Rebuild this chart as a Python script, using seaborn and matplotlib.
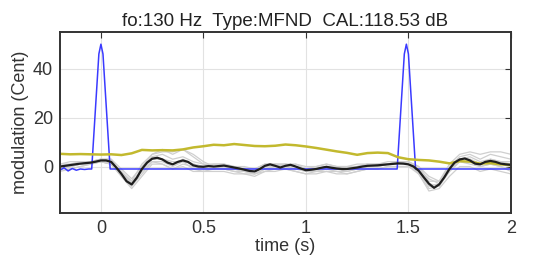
import numpy as np
import pandas as pd
import matplotlib
matplotlib.use("Agg")
import matplotlib.pyplot as plt
import seaborn as sns

# time grids (s)
t_fine = np.round(np.arange(-0.2, 2.0001, 0.025), 3)
t_coarse = np.round(np.arange(-0.2, 2.0001, 0.05), 3)

# mean modulation (black)
mean_mod = [0.0, 0.3, 0.6, 0.9, 1.2, 1.4, 1.6, 2.0, 2.5, 2.5,
            1.9, -0.4, -3.0, -6.0, -7.3, -4.6, -1.0, 1.6, 3.2, 3.6,
            2.9, 1.6, 0.9, 1.9, 2.5, 1.9, 0.5, 0.0, -0.1, 0.2,
            0.0, 0.2, 0.4, 0.0, -0.4, -0.8, -1.3, -1.8, -2.0, -1.0,
            0.3, 0.9, 0.3, -0.4, 0.3, 0.7, 0.0, -0.8, -1.5, -1.3,
            -1.0, -0.5, -0.1, -0.5, -0.8, -1.0, -1.0, -0.7, -0.4, 0.0,
            0.3, 0.4, 0.5, 0.7, 0.9, 1.1, 1.3, 1.2, 0.9, 0.0,
            -1.7, -4.4, -7.0, -8.7, -7.3, -4.4, -1.0, 1.6, 2.9, 3.3,
            2.5, 1.2, 0.9, 1.9, 2.3, 1.9, 1.2, 0.9, 0.7]

# yellow trace
yellow_mod = [5.2, 5.0, 5.1, 5.0, 4.9, 5.0, 4.7, 5.4, 6.8, 6.6,
              6.7, 6.6, 7.0, 7.8, 8.3, 8.9, 8.7, 9.2, 8.8, 8.4,
              8.3, 8.5, 9.0, 8.7, 8.2, 7.6, 6.9, 6.2, 5.6, 4.8,
              5.5, 5.7, 5.5, 3.8, 3.0, 2.7, 2.5, 2.0, 1.3, 2.2,
              2.0, 1.2, 1.4, 0.9, 0.6]

# single trials (light gray)
trials = {
    "g1": [-1, 0, 1, 2, 3, 2, -2, -6, -2, 4, 5, 3, 4, 2, 1, 0, -1, -2, -2, -3,
           -1, 0, 1, 0, -2, -2, -1, -2, -2, -1, 0, 1, 1, 2, 2, -1, -5, -7, -2, 3,
           4, 2, 3, 2, 1],
    "g2": [1, 1, 2, 2, 2, 1, -4, -8, -3, 2, 1, -1, 1, 0, -1, -1, 0, -1, -2, -3,
           -1, -1, 0, -1, -2, -1, 0, 0, -1, 0, 1, 1, 2, 2, 1, -3, -9, -8, -2, 2,
           1, 0, 1, 0, -1],
    "g3": [0, 1, 1, 2, 3, 3, -1, -5, 0, 5, 7, 5, 7, 4, 1, 1, 1, 0, 0, -1,
           1, 1, 1, 1, 0, 0, 1, 0, 0, 0, 1, 0, 1, 1, 2, 0, -6, -6, 0, 4,
           5, 3, 5, 4, 3],
    "g4": [-1, -1, 0, 1, 2, 1, -3, -7, -2, 2, 2, 0, 2, -1, -2, -1, -1, -2, -3, -3,
           -2, -1, -1, -2, -3, -2, -2, -2, -3, -2, -1, -1, 0, 0, 0, -2, -8, -8, -2, 2,
           2, 0, 1, 0, -2],
    "g5": [1, 2, 2, 2, 3, 3, -3, -8, 0, 4, 3, 1, 3, 1, 0, 1, 1, 0, -1, -1,
           1, 1, 0, 1, -1, 0, 1, 0, 0, 1, 1, 1, 1, 2, 1, -1, -7, -8, 0, 3,
           3, 1, 3, 2, 2],
    "g6": [0, 0, 1, 1, 2, 2, -2, -7, -1, 3, 3, 2, 2, 1, 0, 0, 0, -1, -1, -2,
           0, 0, 0, 0, -1, -1, 0, -1, -1, 0, 0, 0, 1, 1, 1, -2, -8, -7, -1, 3,
           3, 1, 2, 1, 0],
    "g7": [0, 0, 1, 2, 2, 1, -3, -6, 1, 5, 6, 6, 7, 5, 2, 0, -1, -1, -2, -2,
           0, 1, 1, 0, -1, -2, -1, -1, -2, -1, 0, 1, 1, 2, 2, 0, -4, -6, 1, 5,
           6, 5, 6, 6, 5],
    "g8": [-2, -1, 0, 1, 2, 1, -4, -9, -4, 1, 1, -1, 0, -2, -2, -2, -2, -3, -3, -4,
           -2, -2, -1, -2, -3, -3, -2, -3, -3, -2, -1, -1, 0, 0, 0, -3, -10, -9, -4, 0,
           0, -2, -1, -2, -3],
}

# stimulus (blue)
stim_t = [-0.2, -0.18, -0.16, -0.14, -0.12, -0.1, -0.08, -0.06, -0.045,
          -0.01, 0.0, 0.01, 0.045, 0.06, 1.43, 1.445, 1.48, 1.49, 1.5,
          1.535, 1.55, 2.0]
stim_mod = [-1.5, -0.5, -1.8, -0.8, -1.5, -1.0, -1.2, -1.0, -1.0,
            46, 50, 46, -1, -1, -1, -1, 46, 50, 46,
            -1, -1, -1]

sns.set_style("whitegrid")
plt.rcParams['font.family'] = ['Liberation Sans', 'DejaVu Sans']
txt = "#333333"

fig = plt.figure(figsize=(5.35, 2.64), dpi=100)
ax = fig.add_axes([0.112, 0.193, 0.843, 0.686])

df_trials = pd.DataFrame(
    [(tt, v, k) for k, vals in trials.items() for tt, v in zip(t_coarse, vals)],
    columns=["time", "mod", "trial"])
sns.lineplot(data=df_trials, x="time", y="mod", units="trial", estimator=None,
             color="#cfcfcf", lw=0.9, ax=ax)
sns.lineplot(x=stim_t, y=stim_mod, color="#3a3aff", lw=1.1, ax=ax)
sns.lineplot(x=t_coarse, y=yellow_mod, color="#c2b92e", lw=1.8, ax=ax)
sns.lineplot(x=t_fine, y=mean_mod, color="#1e1e1e", lw=1.6, ax=ax)

ax.set_xlim(-0.2, 2.0)
ax.set_ylim(-19, 55)
ax.set_xticks([0, 0.5, 1, 1.5, 2])
ax.set_xticklabels(["0", "0.5", "1", "1.5", "2"])
ax.set_yticks([0, 20, 40])
ax.grid(True, color="#e2e2e2", lw=0.8)
ax.tick_params(direction="in", length=4, width=0.8, colors=txt,
               labelsize=13, top=True, right=True, pad=5)
for s in ax.spines.values():
    s.set_color("#333333")
    s.set_linewidth(1.4)

ax.set_xlabel("time (s)", fontsize=13, color=txt, labelpad=1)
ax.set_ylabel("modulation (Cent)", fontsize=13, color=txt, labelpad=3)
ax.set_title("fo:130 Hz  Type:MFND  CAL:118.53 dB", fontsize=13.5,
             color="#222222", pad=4)

fig.savefig("out.png", dpi=100)
